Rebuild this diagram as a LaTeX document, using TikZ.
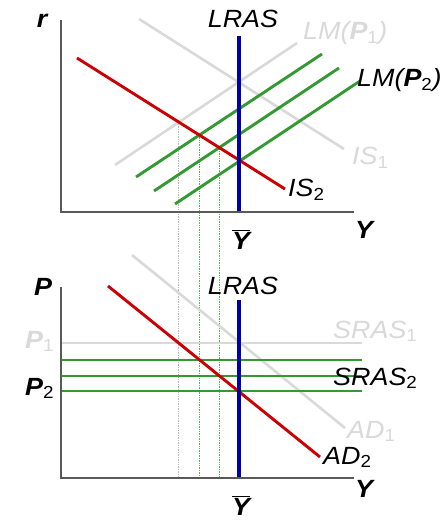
\documentclass[tikz,border=0pt]{standalone}
\usepackage{fontspec}
\setmainfont{Liberation Sans}
\usetikzlibrary{intersections}
\definecolor{oldcolor}{HTML}{D9D9D9}
\definecolor{lmcolor}{HTML}{339933}
\definecolor{iscolor}{HTML}{CC0000}
\definecolor{lrascolor}{HTML}{0000AA}
\definecolor{axiscolor}{HTML}{595959}
\tikzset{
  eco axis/.style={draw=axiscolor,line width=1.8bp},
  eco old/.style={oldcolor,line width=2.6bp},
  eco lm/.style={lmcolor,line width=2.9bp},
  eco is/.style={iscolor,line width=2.9bp},
  eco lras/.style={lrascolor,line width=3.1bp},
  eco guide/.style={line width=.8bp,dash pattern=on .8bp off .9bp},
  eco label/.style={font=\fontsize{25}{29}\selectfont\itshape,inner sep=0pt,xscale=1.08,transform shape},
  eco var/.style={font=\fontsize{25}{29}\selectfont\bfseries\itshape,inner sep=0pt,xscale=1.08,transform shape}
}
\newcommand{\bvar}[1]{\textbf{\textit{#1}}}
\newcommand{\lowidx}[1]{\textsubscript{\upshape\mdseries #1}}

\begin{document}
\begin{tikzpicture}[x=1bp,y=-1bp]
  \useasboundingbox (0,0) rectangle (445,521);
  % ends of the curves
  \coordinate (is2a) at (77,58);   \coordinate (is2b) at (285,189);
  \coordinate (lm1a) at (115,165); \coordinate (lm1b) at (297,43);
  \coordinate (lm2a) at (136,177); \coordinate (lm2b) at (322,54);
  \coordinate (lm3a) at (154,191); \coordinate (lm3b) at (339,68);
  \coordinate (lm4a) at (175,204); \coordinate (lm4b) at (360,81);
  \coordinate (ybot) at (61,478);
  \path[name path=is2] (is2a) -- (is2b);
  \path[name path=lm1] (lm1a) -- (lm1b);
  \path[name path=lm2] (lm2a) -- (lm2b);
  \path[name path=lm3] (lm3a) -- (lm3b);
  \path[name intersections={of=is2 and lm1,by=e1}];
  \path[name intersections={of=is2 and lm2,by=e2}];
  \path[name intersections={of=is2 and lm3,by=e3}];
  \draw[eco guide,gray!55] (e1) -- (e1 |- ybot);
  \draw[eco guide,lmcolor!80] (e2) -- (e2 |- ybot);
  \draw[eco guide,lmcolor!80] (e3) -- (e3 |- ybot);

  % IS-LM
  \draw[eco old] (139,19) -- (344,149);
  \draw[eco old] (lm1a) -- (lm1b);
  \foreach \i in {2,3,4}{\draw[eco lm] (lm\i a) -- (lm\i b);}
  \draw[eco is] (is2a) -- (is2b);
  \draw[eco lras] (239,36) -- (239,212);
  \draw[eco axis] (61,20) -- (61,212) -- (354,212);
  \node[eco var,anchor=base] (rlab) at (42,28) {r};
  \node[eco label,anchor=base] (lrastop) at (243,28) {LRAS};
  \node[eco label,anchor=base west,text=oldcolor] (lm1lab) at (303,40) {LM(\bvar{P}\lowidx{1})};
  \node[eco label,anchor=base west] (lm2lab) at (357,87) {LM(\bvar{P}\lowidx{2})};
  \node[eco label,anchor=base west,text=oldcolor] (is1lab) at (352,165) {IS\lowidx{1}};
  \node[eco label,anchor=base west] (is2lab) at (288,197) {IS\lowidx{2}};
  \node[eco var,anchor=base] (ytop) at (364,238) {Y};
  \node[eco var,anchor=base] (ybartop) at (241,249) {$\overline{\mbox{\bvar{Y}}}$};

  % AS-AD
  \draw[eco old] (61,343) -- (362,343);
  \draw[eco old] (132,255) -- (345,428);
  \foreach \y in {360,376,391}{\draw[eco lm] (61,\y) -- (362,\y);}
  \draw[eco is] (108,286) -- (320,457);
  \draw[eco lras] (239,300) -- (239,478);
  \draw[eco axis] (61,287) -- (ybot) -- (354,478);
  \node[eco var,anchor=base] (plab) at (43,295) {P};
  \node[eco label,anchor=base] (lraslow) at (243,294) {LRAS};
  \node[eco var,anchor=base west,text=oldcolor] (p1lab) at (25,348) {P\lowidx{1}};
  \node[eco var,anchor=base west] (p2lab) at (25,395) {P\lowidx{2}};
  \node[eco label,anchor=base west,text=oldcolor] (sras1lab) at (333,338) {SRAS\lowidx{1}};
  \node[eco label,anchor=base west] (sras2lab) at (333,385) {SRAS\lowidx{2}};
  \node[eco label,anchor=base west,text=oldcolor] (ad1lab) at (347,438) {AD\lowidx{1}};
  \node[eco label,anchor=base west] (ad2lab) at (323,464) {AD\lowidx{2}};
  \node[eco var,anchor=base] (ylow) at (364,497) {Y};
  \node[eco var,anchor=base] (ybarlow) at (241,515) {$\overline{\mbox{\bvar{Y}}}$};
\end{tikzpicture}
\end{document}
